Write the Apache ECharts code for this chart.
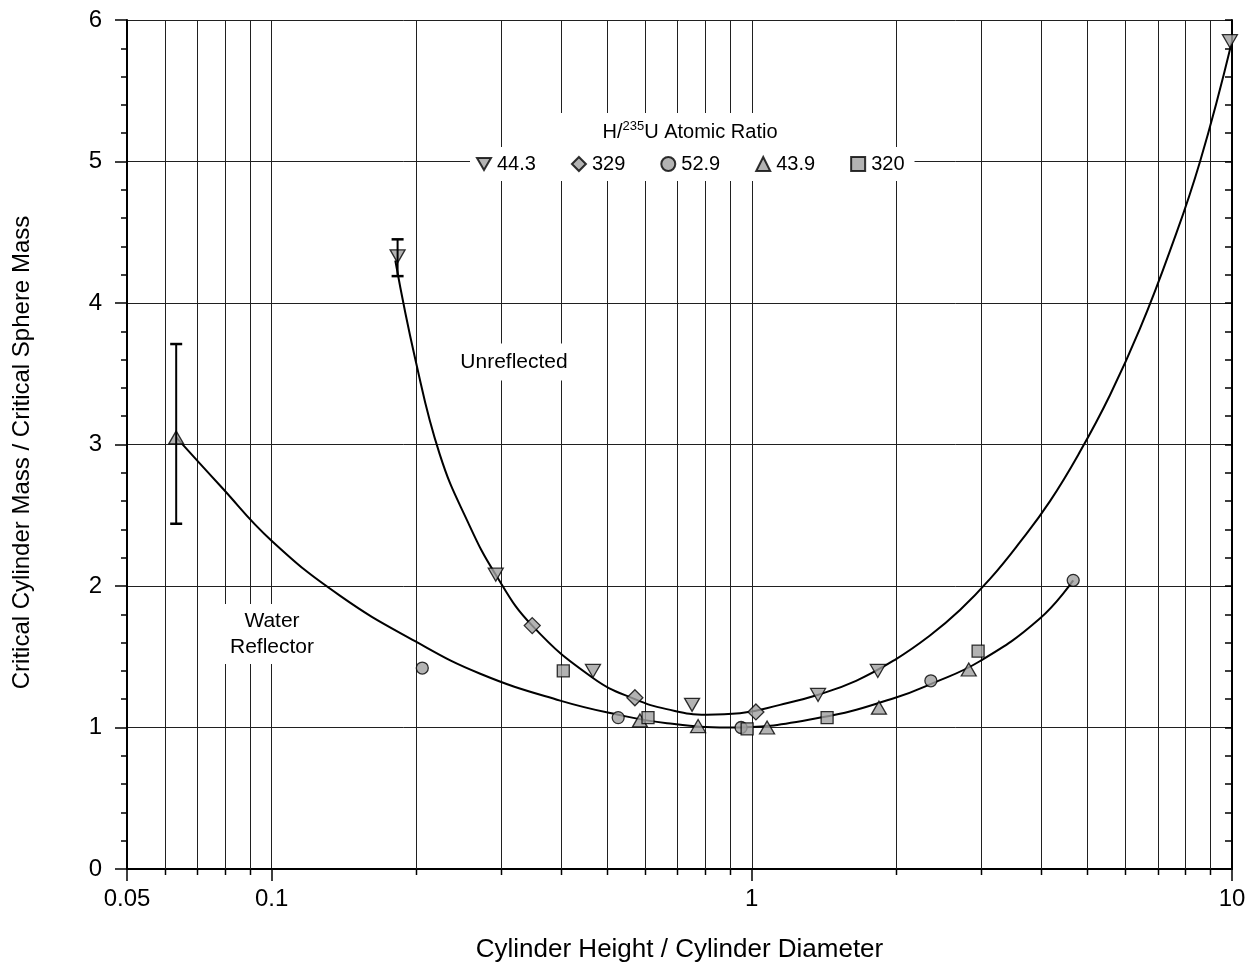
<!DOCTYPE html>
<html><head><meta charset="utf-8">
<script src="https://cdn.jsdelivr.net/npm/echarts@6/dist/echarts.min.js"></script>
<style>html,body{margin:0;padding:0;background:#fff;overflow:hidden}#c{width:1256px;height:968px}</style>
</head><body><div id="c"></div>
<script>
const FONT = "'Liberation Sans', Arial, sans-serif";
const ratioNames = ['44.3', '329', '52.9', '43.9', '320'];
const s443 = [[0.183,4.33],[0.293,2.08],[0.467,1.40],[0.751,1.16],[1.374,1.23],[1.83,1.40],[9.9,5.85]];
const s329 = [[0.349,1.72],[0.571,1.21],[1.02,1.11]];
const s529 = [[0.206,1.42],[0.527,1.07],[0.95,1.00],[2.36,1.33],[4.67,2.04]];
const s439 = [[0.0633,3.05],[0.585,1.05],[0.773,1.01],[1.076,1.00],[1.84,1.14],[2.83,1.41]];
const s320 = [[0.405,1.40],[0.608,1.07],[0.978,0.99],[1.435,1.07],[2.96,1.54]];
const errorBars = [[0.183,4.19,4.45],[0.0633,2.44,3.71]];
const unreflectedCurve = [[0.181,4.30],[0.199,3.61],[0.224,2.93],[0.2565,2.45],[0.293,2.08],[0.349,1.72],[0.467,1.35],[0.571,1.20],[0.665,1.13],[0.805,1.09],[0.945,1.10],[1.145,1.16],[1.37,1.23],[1.649,1.33],[1.99,1.48],[2.35,1.65],[2.714,1.83],[3.134,2.05],[3.618,2.31],[4.179,2.60],[4.826,2.95],[5.572,3.35],[6.435,3.82],[7.43,4.37],[8.58,5.00],[10,5.85]];
const waterCurve = [[0.0633,3.05],[0.0781,2.71],[0.1,2.32],[0.139,1.93],[0.199,1.61],[0.272,1.38],[0.399,1.19],[0.527,1.09],[0.666,1.03],[0.892,1.00],[1.39,1.07],[1.99,1.21],[2.37,1.31],[2.99,1.47],[3.98,1.77],[4.67,2.04]];
const xMinor = [0.06,0.07,0.08,0.09,0.2,0.3,0.4,0.5,0.6,0.7,0.8,0.9,2,3,4,5,6,7,8,9];
const xMin = 0.05, xMax = 10, yMin = 0, yMax = 6;

const chart = echarts.init(document.getElementById('c'), null, {renderer: 'canvas'});
const markerStyle = {color: '#a0a0a0', borderColor: '#000', borderWidth: 1.3};
const downTri = 'path://M0,0L20,0L10,17.3Z';
function scatter(name, data, symbol, size) {
  return {name, type: 'scatter', data, symbol, symbolSize: size, itemStyle: markerStyle, z: 5};
}
const option = {
  animation: false,
  textStyle: {fontFamily: FONT},
  grid: {left: 127, right: 24, top: 20, bottom: 93, containLabel: false},
  legend: {
    left: 470, top: 147,
    padding: [7, 10, 7, 6],
    backgroundColor: '#fff',
    itemWidth: 14, itemHeight: 14, itemGap: 35,
    textStyle: {fontSize: 20, fontFamily: FONT, color: '#000', padding: [0,0,0,1]},
    data: [
      {name: '44.3', icon: downTri},
      {name: '329', icon: 'diamond'},
      {name: '52.9', icon: 'circle'},
      {name: '43.9', icon: 'triangle'},
      {name: '320', icon: 'rect'}
    ]
  },
  xAxis: [{
    type: 'log', logBase: 10, min: xMin, max: xMax, position: 'bottom',
    name: 'Cylinder Height / Cylinder Diameter', nameLocation: 'middle', nameGap: 68,
    nameTextStyle: {fontSize: 26, fontFamily: FONT, color: '#000'},
    axisLine: {lineStyle: {color: '#000', width: 2}},
    axisTick: {show: true, length: 12, lineStyle: {color: '#000', width: 1.5}},
    axisLabel: {fontSize: 24, fontFamily: FONT, color: '#000', margin: 18,
      formatter: v => String(+v.toPrecision(3))},
    splitLine: {show: true, lineStyle: {color: '#202020', width: 1}}
  }, {
    type: 'log', logBase: 10, min: xMin, max: xMax, position: 'top',
    axisLine: {lineStyle: {color: '#000', width: 2}},
    axisTick: {show: false}, axisLabel: {show: false}, splitLine: {show: false}
  }],
  yAxis: [{
    type: 'value', min: yMin, max: yMax, interval: 1, position: 'left',
    name: 'Critical Cylinder Mass / Critical Sphere Mass', nameLocation: 'middle', nameGap: 93,
    nameTextStyle: {fontSize: 24, fontFamily: FONT, color: '#000', padding: [0,0,0,-16]},
    axisLine: {show: true, lineStyle: {color: '#000', width: 2}},
    axisTick: {show: true, length: 12, lineStyle: {color: '#000', width: 1.5}},
    minorTick: {show: true, splitNumber: 5, length: 6, lineStyle: {color: '#000', width: 1.5}},
    axisLabel: {fontSize: 24, fontFamily: FONT, color: '#000', margin: 25},
    splitLine: {show: true, lineStyle: {color: '#202020', width: 1}}
  }, {
    type: 'value', min: yMin, max: yMax, interval: 1, position: 'right',
    axisLine: {show: true, lineStyle: {color: '#000', width: 2}},
    axisTick: {show: true, inside: true, length: 7, lineStyle: {color: '#000', width: 1.5}},
    minorTick: {show: true, splitNumber: 5, length: 7, lineStyle: {color: '#000', width: 1.5}},
    axisLabel: {show: false}, splitLine: {show: false}
  }],
  graphic: [
    {type: 'rect', z: 99, shape: {x: 507, y: 113, width: 382, height: 34}, style: {fill: '#fff'}},
    {type: 'text', z: 100,
     style: {text: '{a|H/}{s|235}{a|U Atomic Ratio}', x: 690, y: 131, align: 'center', verticalAlign: 'middle',
       rich: {
         a: {fontSize: 20, fontFamily: FONT, fill: '#000', fontWeight: 'normal', verticalAlign: 'bottom', lineHeight: 22},
         s: {fontSize: 13, fontFamily: FONT, fill: '#000', fontWeight: 'normal', verticalAlign: 'top', lineHeight: 22, padding: [0,0,7,0]}
       }}},
    {type: 'text', z: 100,
     style: {text: 'Unreflected', x: 514, y: 362, align: 'center', verticalAlign: 'middle',
       fontSize: 21, fontFamily: FONT, fill: '#000', backgroundColor: '#fff', padding: [8, 6]}},
    {type: 'text', z: 100,
     style: {text: 'Water\nReflector', x: 272, y: 634, align: 'center', verticalAlign: 'middle',
       fontSize: 21, lineHeight: 26, fontFamily: FONT, fill: '#000', backgroundColor: '#fff', padding: [4, 12]}}
  ],
  series: [
    {type: 'custom', name: 'minorGrid', silent: true, z: 1,
     data: xMinor.map(v => [v, 0]),
     renderItem: (params, api) => {
       const v = api.value(0);
       const p0 = api.coord([v, yMin]);
       const p1 = api.coord([v, yMax]);
       const x = Math.round(p0[0]) + 0.5;
       return {type: 'group', children: [
         {type: 'line', shape: {x1: x, y1: p0[1], x2: x, y2: p1[1]}, style: {stroke: '#202020', lineWidth: 1}},
         {type: 'line', shape: {x1: x, y1: p0[1], x2: x, y2: p0[1] + 6}, style: {stroke: '#000', lineWidth: 1.5}}
       ]};
     }},
    {type: 'line', name: 'Unreflected curve', data: unreflectedCurve, smooth: 0.45, symbol: 'none',
     lineStyle: {color: '#000', width: 2}, z: 3, silent: true},
    {type: 'line', name: 'Water curve', data: waterCurve, smooth: 0.45, symbol: 'none',
     lineStyle: {color: '#000', width: 2}, z: 3, silent: true},
    scatter('44.3', s443, downTri, [15, 13]),
    scatter('329', s329, 'diamond', 16),
    scatter('52.9', s529, 'circle', 12),
    scatter('43.9', s439, 'triangle', [15, 13]),
    scatter('320', s320, 'rect', 12),
    {type: 'custom', name: 'errorBars', silent: true, z: 6,
     data: errorBars,
     renderItem: (params, api) => {
       const x = api.value(0);
       const lo = api.coord([x, api.value(1)]);
       const hi = api.coord([x, api.value(2)]);
       const cx = lo[0];
       const st = {stroke: '#000', lineWidth: 2};
       return {type: 'group', children: [
         {type: 'line', shape: {x1: cx, y1: lo[1], x2: cx, y2: hi[1]}, style: st},
         {type: 'line', shape: {x1: cx - 6, y1: lo[1], x2: cx + 6, y2: lo[1]}, style: {stroke: '#000', lineWidth: 2.5}},
         {type: 'line', shape: {x1: cx - 6, y1: hi[1], x2: cx + 6, y2: hi[1]}, style: {stroke: '#000', lineWidth: 2.5}}
       ]};
     }}
  ]
};
chart.setOption(option);
</script></body></html>
